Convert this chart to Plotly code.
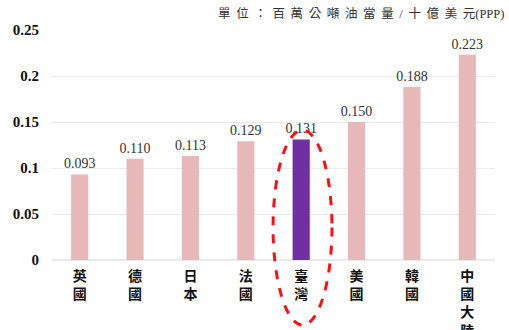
import plotly.graph_objects as go

# Energy intensity by economy
countries = ["英國", "德國", "日本", "法國", "臺灣", "美國", "韓國", "中國大陸"]
values = [0.093, 0.110, 0.113, 0.129, 0.131, 0.150, 0.188, 0.223]
highlight = "臺灣"
y_ticks = [0, 0.05, 0.1, 0.15, 0.2, 0.25]
y_tick_labels = ["0", "0.05", "0.1", "0.15", "0.2", "0.25"]
unit_label = "單位：百萬公噸油當量/十億美元"
unit_suffix = "(PPP)"

SERIF = "Liberation Serif, Noto Sans CJK TC, serif"
PINK = "#E6B9B8"
PURPLE = "#7030A0"

colors = [PURPLE if c == highlight else PINK for c in countries]
# stack each character vertically for the axis labels
vertical_labels = ["<br>".join(list(c)) for c in countries]

fig = go.Figure(
    go.Bar(
        x=countries,
        y=values,
        marker=dict(color=colors, line=dict(width=0)),
        width=0.31,
        text=[f"{v:.3f}" for v in values],
        textposition="outside",
        constraintext="none",
        textfont=dict(family=SERIF, size=14, color="#333333"),
        cliponaxis=False,
    )
)

fig.update_layout(
    width=509,
    height=330,
    margin=dict(l=52, r=14, t=30, b=70),
    paper_bgcolor="white",
    plot_bgcolor="white",
    showlegend=False,
    bargap=0.69,
    xaxis=dict(
        tickmode="array",
        tickvals=countries,
        ticktext=vertical_labels,
        tickfont=dict(family=SERIF, size=14, color="#111111", weight="bold"),
        showgrid=False,
        showline=False,
        ticks="",
        ticklabelstandoff=6,
        automargin=False,
    ),
    yaxis=dict(
        range=[0, 0.25],
        tickvals=y_ticks,
        ticktext=y_tick_labels,
        tickfont=dict(family=SERIF, size=15, color="#111111", weight="bold"),
        showgrid=True,
        gridcolor="#EAEAEA",
        gridwidth=1,
        zeroline=True,
        zerolinecolor="#EAEAEA",
        showline=False,
        ticks="",
        ticklabelstandoff=12,
        automargin=False,
    ),
)

# unit note in the top right corner, letter-spaced
fig.add_annotation(
    text="\u00a0\u2009".join(list(unit_label)) + unit_suffix,
    xref="paper", yref="paper",
    x=1.025, y=1.03,
    xanchor="right", yanchor="bottom",
    showarrow=False,
    font=dict(family=SERIF, size=12.5, color="#333333"),
)

# dashed ellipse around the highlighted bar
fig.add_shape(
    type="circle",
    xref="paper", yref="paper",
    x0=0.499, x1=0.632,
    y0=-0.283, y1=0.565,
    line=dict(color="#FF1010", width=3, dash="dash"),
)

fig.write_html("out.html")
